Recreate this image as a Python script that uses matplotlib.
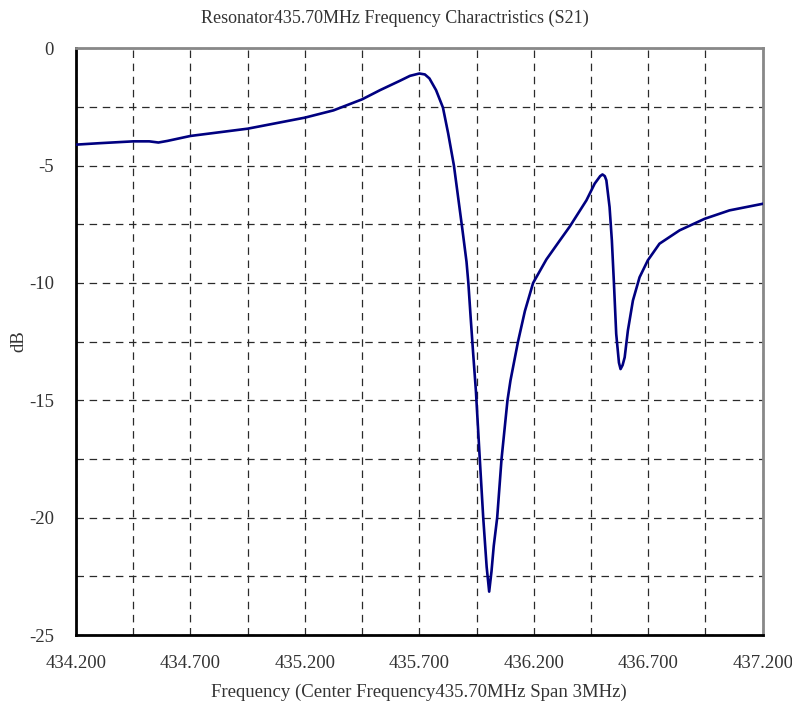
import numpy as np
import matplotlib.pyplot as plt
from matplotlib.ticker import FixedLocator

# S21 trace (MHz, dB)
freq_mhz = [434.200, 434.300, 434.450, 434.520, 434.560, 434.600, 434.700, 434.950,
            435.200, 435.325, 435.450, 435.528, 435.615, 435.659, 435.700, 435.724,
            435.744, 435.773, 435.803, 435.826, 435.851, 435.870, 435.889, 435.906,
            435.914, 435.924, 435.935, 435.947, 435.964, 435.979, 435.994, 436.005,
            436.015, 436.025, 436.040, 436.059, 436.085, 436.098, 436.131, 436.161,
            436.197, 436.255, 436.313, 436.357, 436.430, 436.466, 436.490, 436.500,
            436.510, 436.517, 436.531, 436.541, 436.550, 436.560, 436.572, 436.579,
            436.588, 436.597, 436.611, 436.633, 436.662, 436.698, 436.749, 436.837,
            436.946, 437.055, 437.200]
s21_db = [-4.11, -4.05, -3.97, -3.97, -4.02, -3.95, -3.74, -3.43,
          -2.96, -2.65, -2.18, -1.79, -1.39, -1.18, -1.08, -1.12,
          -1.29, -1.79, -2.53, -3.64, -5.00, -6.40, -7.80, -9.10,
          -10.0, -11.46, -13.0, -14.6, -17.5, -20.0, -22.1, -23.15,
          -22.3, -21.2, -20.0, -17.5, -15.0, -14.16, -12.5, -11.2,
          -10.0, -9.0, -8.2, -7.6, -6.48, -5.77, -5.45, -5.38,
          -5.45, -5.63, -6.77, -8.19, -10.0, -12.17, -13.4, -13.67,
          -13.5, -13.17, -12.03, -10.75, -9.76, -9.04, -8.33, -7.76,
          -7.27, -6.91, -6.63]

x_ticks = [434.2, 434.7, 435.2, 435.7, 436.2, 436.7, 437.2]
y_ticks = [0, -5, -10, -15, -20, -25]

plt.rcParams['font.family'] = ['Liberation Serif', 'DejaVu Serif']

fig = plt.figure(figsize=(7.92, 7.08), dpi=100)
ax = fig.add_axes([0.096, 0.103, 0.867, 0.829])

ax.plot(freq_mhz, s21_db, color='#000080', linewidth=1.9, zorder=3)

ax.set_xlim(434.2, 437.2)
ax.set_ylim(-25, 0)
ax.xaxis.set_major_locator(FixedLocator(x_ticks))
ax.yaxis.set_major_locator(FixedLocator(y_ticks))
ax.xaxis.set_minor_locator(FixedLocator(np.arange(434.45, 437.2, 0.5)))
ax.yaxis.set_minor_locator(FixedLocator(np.arange(-22.5, 0, 5)))
ax.set_xticklabels(['%.3f' % v for v in x_ticks])
ax.set_yticklabels([str(v) for v in y_ticks])
ax.tick_params(which='both', length=0, labelsize=13.5, colors='#333333')
ax.tick_params(axis='x', pad=14)
ax.tick_params(axis='y', pad=16)

ax.grid(which='both', color='#2a2a2a', linestyle=(0, (6, 4.5)), linewidth=0.9)

for side in ['left', 'bottom']:
    ax.spines[side].set_color('black')
    ax.spines[side].set_linewidth(2)
for side in ['top', 'right']:
    ax.spines[side].set_color('#888888')
    ax.spines[side].set_linewidth(2)

ax.set_title('Resonator435.70MHz Frequency Charactristics (S21)', fontsize=13,
             color='#333333', pad=18, x=0.464)
ax.set_xlabel('Frequency (Center Frequency435.70MHz Span 3MHz)', fontsize=13.5,
              color='#333333', labelpad=9)
ax.set_ylabel('dB', fontsize=13.5, color='#333333', labelpad=1)

fig.savefig('out.png', dpi=100)
